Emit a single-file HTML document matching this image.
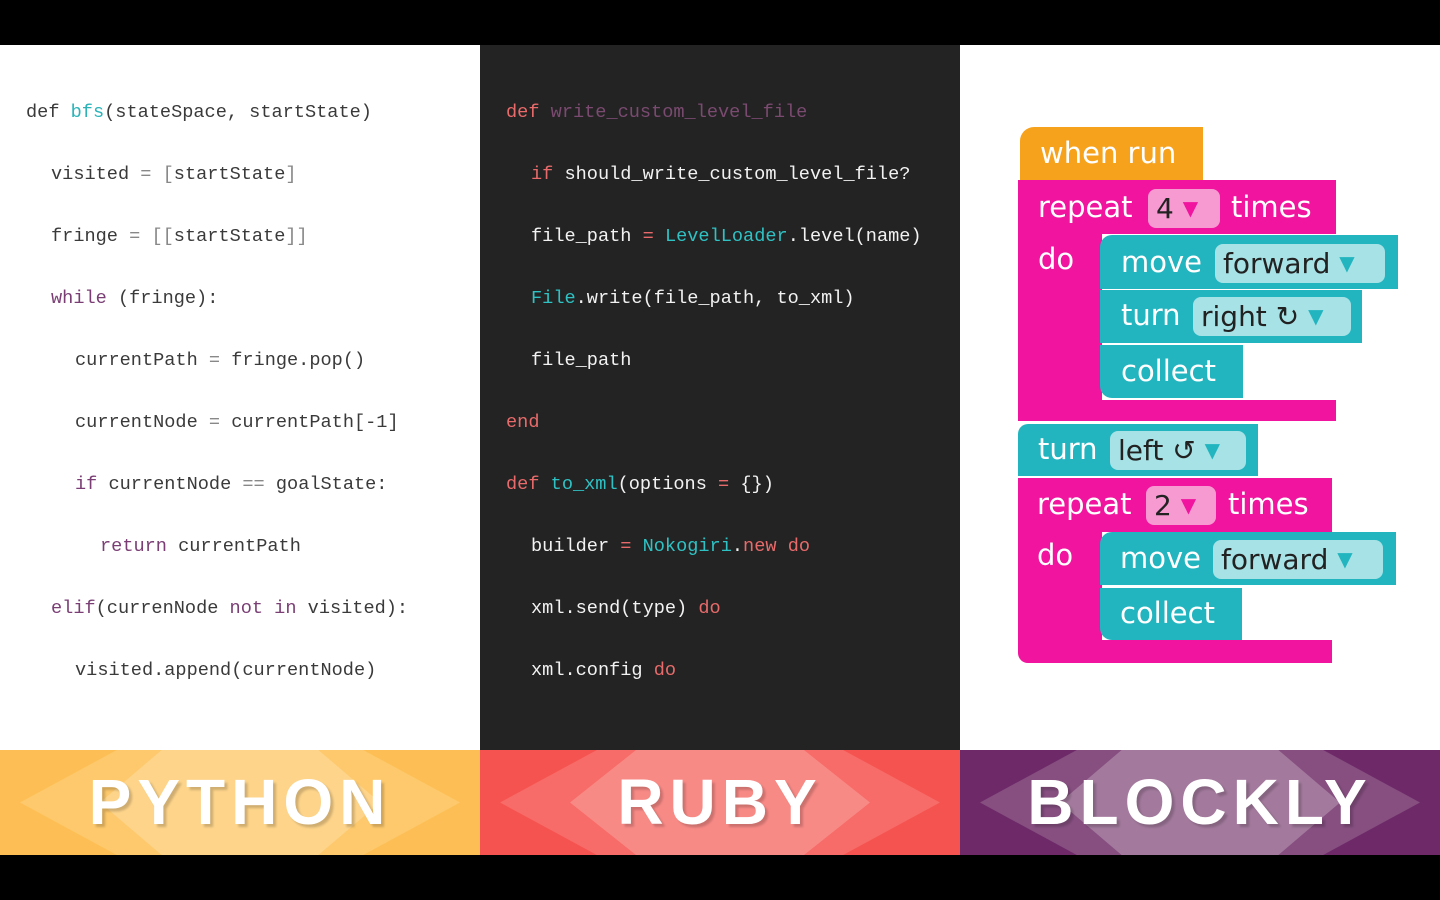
<!DOCTYPE html>
<html><head><meta charset="utf-8"><style>
*{margin:0;padding:0;box-sizing:border-box}
body{width:1440px;height:900px;background:#000;position:relative;overflow:hidden;font-family:"Liberation Sans",sans-serif}
.p{position:absolute}
.code{font-family:"Liberation Mono",monospace;font-size:18.6px;white-space:pre;line-height:24px}
.py{color:#3a3a3a}.rb{color:#f2f2f2}
.kw{color:#7a3e75}.fn{color:#2bb3b8}.op{color:#888}
.rk{color:#e86a6a}.rf{color:#7a4a70}.rc{color:#2fc2c4}
.ban{position:absolute;top:750px;height:105px;width:480px;overflow:hidden}
.hex{position:absolute;top:0;height:105px;clip-path:polygon(0 50%,22% 0,78% 0,100% 50%,78% 100%,22% 100%)}
.bt{position:absolute;left:0;width:480px;top:15px;text-align:center;color:#fff;font-weight:bold;font-size:64px;letter-spacing:6px;text-shadow:3px 3px 2px rgba(0,0,0,.18)}
.b{position:absolute;color:#fff;font-size:29px;font-family:"DejaVu Sans","Liberation Sans",sans-serif;line-height:1}
.pk{background:#f0149e}.tl{background:#22b5bf}.or{background:#f7a21d}
.fld{position:absolute;border-radius:8px;color:#222;font-size:28px;font-family:"DejaVu Sans",sans-serif;line-height:38px;padding-left:8px}
.ar{font-size:20px;vertical-align:3px}
</style></head><body>
<div class="p" style="left:0;top:45px;width:480px;height:705px;background:#fff"></div>
<div class="p" style="left:480px;top:45px;width:480px;height:705px;background:#232323"></div>
<div class="p" style="left:960px;top:45px;width:480px;height:705px;background:#fff"></div>

<div class="p code py" style="left:26px;top:101px">def <span class="fn">bfs</span>(stateSpace, startState)</div>
<div class="p code py" style="left:51px;top:163px">visited <span class="op">=</span> <span class="op">[</span>startState<span class="op">]</span></div>
<div class="p code py" style="left:51px;top:225px">fringe <span class="op">=</span> <span class="op">[[</span>startState<span class="op">]]</span></div>
<div class="p code py" style="left:51px;top:287px"><span class="kw">while</span> (fringe):</div>
<div class="p code py" style="left:75px;top:349px">currentPath <span class="op">=</span> fringe.pop()</div>
<div class="p code py" style="left:75px;top:411px">currentNode <span class="op">=</span> currentPath[-1]</div>
<div class="p code py" style="left:75px;top:473px"><span class="kw">if</span> currentNode <span class="op">==</span> goalState:</div>
<div class="p code py" style="left:100px;top:535px"><span class="kw">return</span> currentPath</div>
<div class="p code py" style="left:51px;top:597px"><span class="kw">elif</span>(currenNode <span class="kw">not in</span> visited):</div>
<div class="p code py" style="left:75px;top:659px">visited.append(currentNode)</div>

<div class="p code rb" style="left:506px;top:101px"><span class="rk">def</span> <span class="rf">write_custom_level_file</span></div>
<div class="p code rb" style="left:531px;top:163px"><span class="rk">if</span> should_write_custom_level_file?</div>
<div class="p code rb" style="left:531px;top:225px">file_path <span class="rk">=</span> <span class="rc">LevelLoader</span>.level(name)</div>
<div class="p code rb" style="left:531px;top:287px"><span class="rc">File</span>.write(file_path, to_xml)</div>
<div class="p code rb" style="left:531px;top:349px">file_path</div>
<div class="p code rb" style="left:506px;top:411px"><span class="rk">end</span></div>
<div class="p code rb" style="left:506px;top:473px"><span class="rk">def</span> <span class="rc">to_xml</span>(options <span class="rk">=</span> {})</div>
<div class="p code rb" style="left:531px;top:535px">builder <span class="rk">=</span> <span class="rc">Nokogiri</span>.<span class="rk">new</span> <span class="rk">do</span></div>
<div class="p code rb" style="left:531px;top:597px">xml.send(type) <span class="rk">do</span></div>
<div class="p code rb" style="left:531px;top:659px">xml.config <span class="rk">do</span></div>

<!-- Blockly -->
<div class="p or" style="left:1020px;top:127px;width:183px;height:56px;border-radius:14px 0 0 0"></div>
<div class="b" style="left:1040px;top:139px">when run</div>
<div class="p pk" style="left:1018px;top:180px;width:318px;height:54px"></div>
<div class="p pk" style="left:1018px;top:230px;width:84px;height:180px"></div>
<div class="p pk" style="left:1018px;top:400px;width:318px;height:21px"></div>
<div class="b" style="left:1038px;top:193px">repeat</div>
<div class="fld" style="left:1148px;top:189px;width:72px;background:#f79ad2">4 <span class="ar" style="color:#f0149e">▼</span></div>
<div class="b" style="left:1231px;top:193px">times</div>
<div class="b" style="left:1038px;top:245px">do</div>
<div class="p tl" style="left:1100px;top:235px;width:298px;height:54px;border-radius:12px 0 0 0"></div>
<div class="b" style="left:1121px;top:248px">move</div>
<div class="fld" style="left:1215px;top:244px;width:170px;background:#a6e2e6">forward <span class="ar" style="color:#22b5bf">▼</span></div>
<div class="p tl" style="left:1100px;top:290px;width:262px;height:53px"></div>
<div class="b" style="left:1121px;top:301px">turn</div>
<div class="fld" style="left:1193px;top:297px;width:158px;background:#a6e2e6">right ↻ <span class="ar" style="color:#22b5bf">▼</span></div>
<div class="p tl" style="left:1100px;top:345px;width:143px;height:53px;border-radius:0 0 0 12px"></div>
<div class="b" style="left:1121px;top:357px">collect</div>

<div class="p tl" style="left:1018px;top:424px;width:240px;height:52px;border-radius:10px 0 0 0"></div>
<div class="b" style="left:1038px;top:435px">turn</div>
<div class="fld" style="left:1110px;top:431px;width:136px;background:#a6e2e6">left ↺ <span class="ar" style="color:#22b5bf">▼</span></div>

<div class="p pk" style="left:1018px;top:478px;width:314px;height:54px"></div>
<div class="p pk" style="left:1018px;top:525px;width:84px;height:125px"></div>
<div class="p pk" style="left:1018px;top:640px;width:314px;height:23px;border-radius:0 0 0 10px"></div>
<div class="b" style="left:1037px;top:490px">repeat</div>
<div class="fld" style="left:1146px;top:486px;width:70px;background:#f79ad2">2 <span class="ar" style="color:#f0149e">▼</span></div>
<div class="b" style="left:1228px;top:490px">times</div>
<div class="b" style="left:1037px;top:541px">do</div>
<div class="p tl" style="left:1100px;top:532px;width:296px;height:53px;border-radius:12px 0 0 0"></div>
<div class="b" style="left:1120px;top:544px">move</div>
<div class="fld" style="left:1213px;top:540px;width:170px;background:#a6e2e6">forward <span class="ar" style="color:#22b5bf">▼</span></div>
<div class="p tl" style="left:1100px;top:588px;width:142px;height:52px;border-radius:0 0 0 12px"></div>
<div class="b" style="left:1120px;top:599px">collect</div>

<!-- banners -->
<div class="ban" style="left:0;background:#fdbf55">
<div class="hex" style="left:20px;width:440px;background:#fdc96c"></div>
<div class="hex" style="left:100px;width:280px;background:#fdd48a"></div>
<div class="bt">PYTHON</div></div>
<div class="ban" style="left:480px;background:#f5534f">
<div class="hex" style="left:20px;width:440px;background:#f76b68"></div>
<div class="hex" style="left:90px;width:300px;background:#f88a86"></div>
<div class="bt">RUBY</div></div>
<div class="ban" style="left:960px;background:#6e2a68">
<div class="hex" style="left:20px;width:440px;background:#864f80"></div>
<div class="hex" style="left:100px;width:280px;background:#a37a9d"></div>
<div class="bt">BLOCKLY</div></div>
</body></html>
